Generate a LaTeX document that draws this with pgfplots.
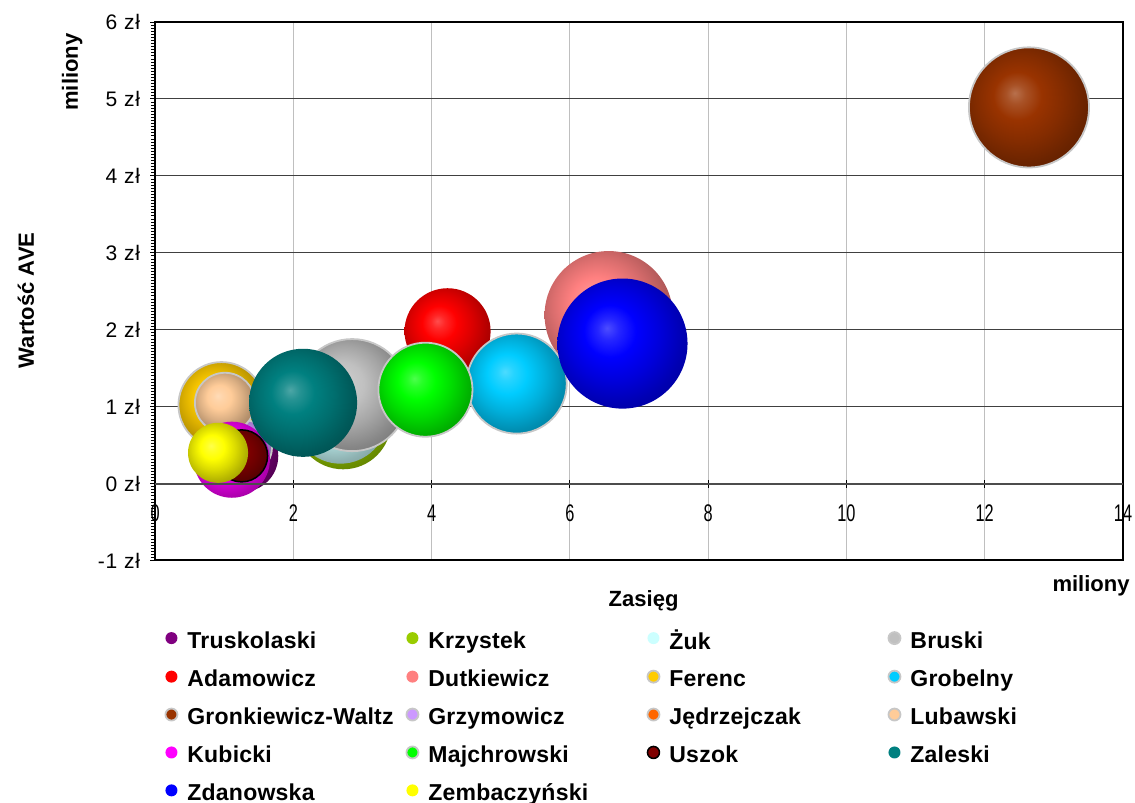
\documentclass[border=0pt]{standalone}
\usepackage{fontspec}
\setmainfont{Liberation Sans}
\newfontfamily\narrowfont[FakeStretch=0.68]{Liberation Sans}
\usepackage{pgfplots}
\pgfplotsset{compat=1.18}

% Excel palette
\definecolor{trus}{HTML}{800080}
\definecolor{krzy}{HTML}{99CC00}
\definecolor{zuk}{HTML}{CCFFFF}
\definecolor{brus}{HTML}{C0C0C0}
\definecolor{adam}{HTML}{FF0000}
\definecolor{dutk}{HTML}{FF8080}
\definecolor{fere}{HTML}{FFCC00}
\definecolor{grob}{HTML}{00CCFF}
\definecolor{gron}{HTML}{993300}
\definecolor{grzy}{HTML}{CC99FF}
\definecolor{jedr}{HTML}{FF6600}
\definecolor{luba}{HTML}{FFCC99}
\definecolor{kubi}{HTML}{FF00FF}
\definecolor{majc}{HTML}{00FF00}
\definecolor{uszo}{HTML}{800000}
\definecolor{zale}{HTML}{008080}
\definecolor{zdan}{HTML}{0000FF}
\definecolor{zemb}{HTML}{FFFF00}
\definecolor{bubc}{HTML}{808080}

% Excel-like bubble shading
\pgfdeclareradialshading[bubc]{xlball}{\pgfqpoint{-6bp}{6bp}}{%
  color(0bp)=(bubc!70!white);
  color(4bp)=(bubc!85!white);
  color(10bp)=(bubc);
  color(18bp)=(bubc!86!black);
  color(26bp)=(bubc!70!black);
  color(34bp)=(bubc!58!black);
  color(50bp)=(bubc!55!black)}
\pgfdeclareplotmark{xball}{%
  \pgfpathcircle{\pgfpointorigin}{\pgfplotmarksize}%
  \pgfshadepath{xlball}{0}%
  \pgfusepath{stroke}%
}
\newcommand{\lgn}[1]{\makebox[109pt][l]{\strut #1}}

\tikzset{
  nol/.style={draw opacity=0},
  gol/.style={draw=black!22, line width=0.9pt},
  bol/.style={draw=black, line width=0.75pt},
}
\pgfplotsset{
  bub/.style n args={3}{only marks, mark=xball, mark size=#2pt,
    mark options={/utils/exec={\colorlet{bubc}{#1}}, #3},
    legend image code/.code={\fill[#1, #3] (0pt,1.3pt) circle (3pt);}},
}

\begin{document}
\begin{tikzpicture}
\useasboundingbox (-77.5pt,-121pt) rectangle (489.5pt,280pt);
\begin{axis}[
  width=483.5pt, height=269pt, scale only axis, clip=false,
  xmin=0, xmax=14, ymin=-1, ymax=6,
  xtick={0,2,...,14}, xticklabels={},
  xtick style={/pgfplots/major tick length=0pt},
  ytick={-1,0,...,6},
  yticklabels={-1 zł,0 zł,1 zł,2 zł,3 zł,4 zł,5 zł,6 zł},
  minor y tick num=24,
  ytick pos=left,
  tick align=outside,
  major tick length=2.5pt, minor tick length=2pt,
  ytick style={black, line width=0.5pt},
  minor y tick style={black, line width=0.4pt},
  xmajorgrids, ymajorgrids,
  major x grid style={black!25, line width=0.5pt},
  major y grid style={black!75, line width=0.5pt},
  axis line style={black, line width=1pt},
  yticklabel style={font=\fontsize{10.5}{12}\selectfont\addfontfeature{LetterSpace=4}, xshift=-1.5pt},
  xlabel={Zasięg}, ylabel={Wartość AVE},
  label style={font=\fontsize{11}{13}\selectfont\bfseries},
  xlabel style={at={(axis description cs:0.5047,-0.0743)}, anchor=center},
  ylabel style={at={(axis description cs:-0.1334,0.4833)}, anchor=center},
  legend columns=4,
  legend cell align=left,
  legend style={draw=none, fill=none, inner sep=0pt,
    at={(axis description cs:0,0)}, anchor=north west,
    xshift=4.5pt, yshift=-34.2pt,
    font=\fontsize{11.5}{13.2}\selectfont\bfseries\addfontfeature{LetterSpace=1},
    nodes={inner sep=0pt},
    /tikz/every odd column/.append style={column sep=4.5pt},
    row sep=8.2pt},
]
\addplot[bub={trus}{18}{nol}] coordinates {(1.26,0.36)};
\addlegendentry{\lgn{Truskolaski}}
\addplot[bub={krzy}{24}{nol}] coordinates {(2.72,0.81)};
\addlegendentry{\lgn{Krzystek}}
\addplot[bub={zuk}{23.5}{nol}] coordinates {(2.68,0.87)};
\addlegendentry{\lgn{Żuk}}
\addplot[bub={brus}{28}{gol}] coordinates {(2.85,1.15)};
\addlegendentry{\lgn{Bruski}}
\addplot[bub={adam}{21.5}{nol}] coordinates {(4.23,1.98)};
\addlegendentry{\lgn{Adamowicz}}
\addplot[bub={dutk}{32}{nol}] coordinates {(6.56,2.19)};
\addlegendentry{\lgn{Dutkiewicz}}
\addplot[bub={fere}{21.5}{gol}] coordinates {(0.96,1.02)};
\addlegendentry{\lgn{Ferenc}}
\addplot[bub={grob}{25}{gol}] coordinates {(5.23,1.30)};
\addlegendentry{\lgn{Grobelny}}
\addplot[bub={gron}{30}{gol}] coordinates {(12.64,4.89)};
\addlegendentry{\lgn{Gronkiewicz-Waltz}}
\addplot[bub={grzy}{13.5}{gol}] coordinates {(1.30,0.47)};
\addlegendentry{\lgn{Grzymowicz}}
\addplot[bub={jedr}{12.5}{gol}] coordinates {(1.26,0.33)};
\addlegendentry{\lgn{Jędrzejczak}}
\addplot[bub={luba}{15}{gol}] coordinates {(1.01,1.05)};
\addlegendentry{\lgn{Lubawski}}
\addplot[bub={kubi}{19}{nol}] coordinates {(1.11,0.31)};
\addlegendentry{\lgn{Kubicki}}
\addplot[bub={majc}{23.5}{gol}] coordinates {(3.91,1.22)};
\addlegendentry{\lgn{Majchrowski}}
\addplot[bub={uszo}{13}{bol}] coordinates {(1.25,0.36)};
\addlegendentry{\lgn{Uszok}}
\addplot[bub={zale}{27}{nol}] coordinates {(2.14,1.05)};
\addlegendentry{\lgn{Zaleski}}
\addplot[bub={zdan}{32.5}{nol}] coordinates {(6.76,1.82)};
\addlegendentry{\lgn{Zdanowska}}
\addplot[bub={zemb}{15}{nol}] coordinates {(0.91,0.40)};
\addlegendentry{\lgn{Zembaczyński}}
\node[font=\fontsize{11}{13}\selectfont\bfseries, rotate=90] at (axis description cs:-0.0858,0.907) {miliony};
\node[font=\fontsize{11}{13}\selectfont\bfseries] at (axis description cs:0.967,-0.0465) {miliony};
\end{axis}
% x axis at y = 0 with crossing ticks
\begin{axis}[
  width=483.5pt, height=269pt, scale only axis,
  xmin=0, xmax=14, ymin=-1, ymax=6,
  axis x line=middle, axis y line=none,
  x axis line style={-, black!70, line width=1pt},
  xtick={0,2,...,14}, xticklabels={0,2,4,6,8,10,12,14},
  tick align=center, major tick length=4pt,
  xtick style={black, line width=0.5pt},
  xticklabel style={font=\narrowfont\fontsize{12}{14}\selectfont, yshift=-5pt},
]
\end{axis}
\end{tikzpicture}
\end{document}
